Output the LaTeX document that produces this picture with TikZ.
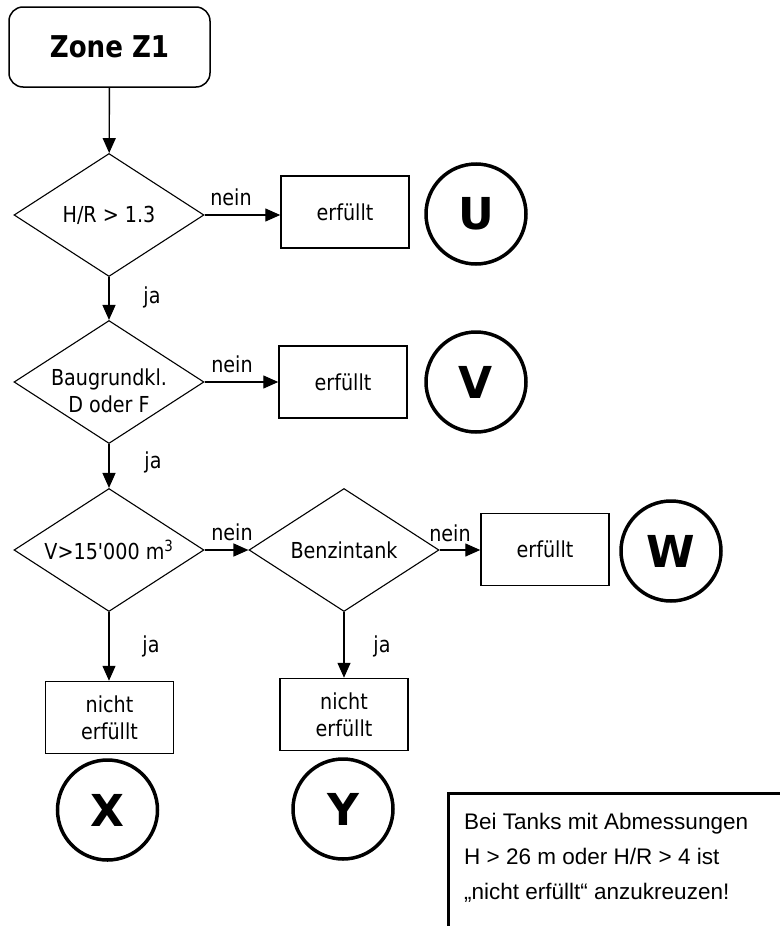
\documentclass[tikz,border=0pt]{standalone}
\usepackage{fontspec}
\usetikzlibrary{shapes.geometric,arrows.meta}
\newfontfamily\tah[FakeStretch=0.87]{DejaVu Sans}
\newfontfamily\verd{DejaVu Sans}
\newfontfamily\arialf{Liberation Sans}
\begin{document}
\begin{tikzpicture}[x=1pt,y=-1pt,
  txt/.style={font=\tah\fontsize{22}{27}\selectfont, inner sep=0pt},
  flbox/.style={draw, line width=1.5pt, minimum width=128pt, minimum height=72pt, inner sep=0pt, align=center, font=\tah\fontsize{22}{27}\selectfont},
  dia/.style={draw, diamond, line width=1.1pt, aspect=1.545, minimum width=190pt, minimum height=123pt, inner sep=0pt, align=center, font=\tah\fontsize{22}{27}\selectfont},
  circ/.style={draw, circle, line width=3.5pt, minimum size=100pt, inner sep=0pt, font=\verd\bfseries\fontsize{44}{44}\selectfont},
  arr/.style={line width=1.4pt, -{Triangle[length=15pt,width=13pt]}},
  notetxt/.style={font=\arialf\fontsize{22.5}{27}\selectfont, inner sep=0pt, anchor=base west}
]
\useasboundingbox (0,0) rectangle (779,926);
\fill[white] (0,0) rectangle (779,926);

% start
\node[draw, line width=1.5pt, rounded corners=14pt, minimum width=201pt, minimum height=80pt, inner sep=0pt,
      font=\tah\bfseries\fontsize{30}{30}\selectfont] (zone) at (109.5,47) {Zone Z1};

% decisions
\node[dia] (d1) at (109,215) {H/R > 1.3};
\node[dia] (d2) at (109,382) {};
\node[txt, align=center] (d2t) at (109,391) {Baugrundkl.\\D oder F};
\node[dia] (d3) at (109,550) {V>15'000 m\textsuperscript{3}};
\node[dia] (d4) at (344,550) {Benzintank};

% result boxes
\node[flbox] (bU) at (345,212) {erfüllt};
\node[flbox] (bV) at (343,382) {erfüllt};
\node[flbox] (bW) at (545,549.5) {erfüllt};
\node[flbox] (bX) at (109.5,717.5) {nicht\\erfüllt};
\node[flbox] (bY) at (344,714.5) {nicht\\erfüllt};

% circles
\node[circ] (cU) at (476,214) {U};
\node[circ] (cV) at (476,382) {V};
\node[circ] (cW) at (671,551) {W};
\node[circ] (cX) at (107.5,810) {X};
\node[circ] (cY) at (343,809) {Y};

% connectors
\draw[arr] (zone) -- (d1);
\draw[arr] (d1.east) -- (d1.east -| bU.west);
\draw[arr] (d1) -- (d2);
\draw[arr] (d2.east) -- (d2.east -| bV.west);
\draw[arr] (d2) -- (d3);
\draw[arr] (d3.east) -- (d4.west);
\draw[arr] (d4.east) -- (d4.east -| bW.west);
\draw[arr] (d3.south) -- (d3.south |- bX.north);
\draw[arr] (d4.south) -- (d4.south |- bY.north);

% labels
\node[txt] (l1) at (231,197) {nein};
\node[txt] (l2) at (232,364) {nein};
\node[txt] (l3) at (232,532) {nein};
\node[txt] (l4) at (450,533) {nein};
\node[txt] (j1) at (152,297) {ja};
\node[txt] (j2) at (153,462) {ja};
\node[txt] (j3) at (151,646) {ja};
\node[txt] (j4) at (382,646) {ja};

% note
\node[draw, line width=3pt, anchor=north west, minimum width=345pt, minimum height=150pt, inner sep=0pt] (note) at (447,792) {};
\node[notetxt] (n1) at (464,829) {Bei Tanks mit Abmessungen};
\node[notetxt] (n2) at (464,864) {H > 26 m oder H/R > 4 ist};
\node[notetxt] (n3) at (464,899) {„nicht erfüllt“ anzukreuzen!};
\end{tikzpicture}
\end{document}
